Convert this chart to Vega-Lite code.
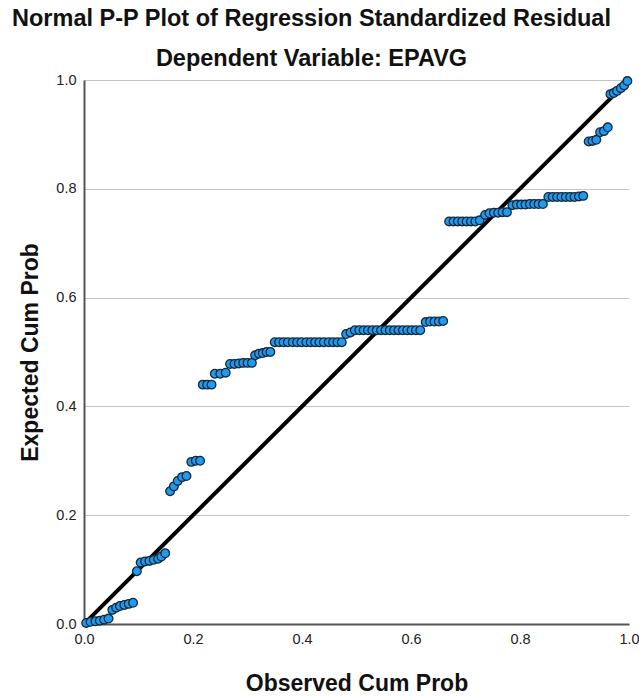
{
  "$schema": "https://vega.github.io/schema/vega-lite/v6.json",
  "autosize": "none",
  "width": 545,
  "height": 544,
  "padding": {"left": 84, "top": 80, "right": 10, "bottom": 72},
  "background": "white",
  "config": {"view": {"stroke": null}, "font": "Liberation Sans"},
  "title": {
    "text": "Normal P-P Plot of Regression Standardized Residual",
    "subtitle": "Dependent Variable: EPAVG",
    "anchor": "middle",
    "frame": "group",
    "dx": -45,
    "font": "Liberation Sans",
    "fontSize": 23.5,
    "fontWeight": "bold",
    "color": "#111",
    "subtitleFont": "Liberation Sans",
    "subtitleFontSize": 23.5,
    "subtitleFontWeight": "bold",
    "subtitleColor": "#111",
    "subtitlePadding": 16,
    "offset": 2
  },
  "layer": [
    {
      "data": {"values": [{"obs": 0, "exp": 0}, {"obs": 1, "exp": 1}]},
      "mark": {"type": "line", "color": "black", "strokeWidth": 4, "clip": true},
      "encoding": {
        "x": {"field": "obs", "type": "quantitative"},
        "y": {"field": "exp", "type": "quantitative"}
      }
    },
    {
      "data": {"values": [
        {"obs": 0.004, "exp": 0.002}, {"obs": 0.012, "exp": 0.004}, {"obs": 0.021, "exp": 0.005}, {"obs": 0.029, "exp": 0.006}, {"obs": 0.037, "exp": 0.008}, {"obs": 0.045, "exp": 0.01},
        {"obs": 0.052, "exp": 0.026}, {"obs": 0.059, "exp": 0.03}, {"obs": 0.066, "exp": 0.033}, {"obs": 0.074, "exp": 0.035}, {"obs": 0.082, "exp": 0.037}, {"obs": 0.09, "exp": 0.039},
        {"obs": 0.097, "exp": 0.097}, {"obs": 0.104, "exp": 0.113}, {"obs": 0.112, "exp": 0.115}, {"obs": 0.12, "exp": 0.116}, {"obs": 0.128, "exp": 0.118}, {"obs": 0.136, "exp": 0.12}, {"obs": 0.142, "exp": 0.124}, {"obs": 0.149, "exp": 0.13},
        {"obs": 0.158, "exp": 0.244}, {"obs": 0.165, "exp": 0.253}, {"obs": 0.172, "exp": 0.263}, {"obs": 0.18, "exp": 0.27}, {"obs": 0.188, "exp": 0.272},
        {"obs": 0.197, "exp": 0.298}, {"obs": 0.205, "exp": 0.3}, {"obs": 0.213, "exp": 0.3},
        {"obs": 0.218, "exp": 0.44}, {"obs": 0.226, "exp": 0.44}, {"obs": 0.234, "exp": 0.44},
        {"obs": 0.24, "exp": 0.46}, {"obs": 0.25, "exp": 0.46}, {"obs": 0.26, "exp": 0.462},
        {"obs": 0.268, "exp": 0.478}, {"obs": 0.276, "exp": 0.478}, {"obs": 0.284, "exp": 0.479}, {"obs": 0.292, "exp": 0.48}, {"obs": 0.3, "exp": 0.48}, {"obs": 0.308, "exp": 0.48},
        {"obs": 0.314, "exp": 0.494}, {"obs": 0.321, "exp": 0.497}, {"obs": 0.328, "exp": 0.498}, {"obs": 0.335, "exp": 0.5}, {"obs": 0.342, "exp": 0.5},
        {"obs": 0.35, "exp": 0.518}, {"obs": 0.358, "exp": 0.518}, {"obs": 0.366, "exp": 0.518}, {"obs": 0.374, "exp": 0.518}, {"obs": 0.383, "exp": 0.518}, {"obs": 0.391, "exp": 0.518}, {"obs": 0.399, "exp": 0.518}, {"obs": 0.408, "exp": 0.518}, {"obs": 0.416, "exp": 0.518}, {"obs": 0.424, "exp": 0.518}, {"obs": 0.432, "exp": 0.518}, {"obs": 0.44, "exp": 0.518}, {"obs": 0.449, "exp": 0.518}, {"obs": 0.457, "exp": 0.518}, {"obs": 0.465, "exp": 0.518}, {"obs": 0.473, "exp": 0.518},
        {"obs": 0.481, "exp": 0.533}, {"obs": 0.489, "exp": 0.536},
        {"obs": 0.497, "exp": 0.54}, {"obs": 0.505, "exp": 0.54}, {"obs": 0.513, "exp": 0.54}, {"obs": 0.521, "exp": 0.54}, {"obs": 0.529, "exp": 0.54}, {"obs": 0.537, "exp": 0.54}, {"obs": 0.545, "exp": 0.54}, {"obs": 0.553, "exp": 0.54}, {"obs": 0.561, "exp": 0.54}, {"obs": 0.569, "exp": 0.54}, {"obs": 0.577, "exp": 0.54}, {"obs": 0.585, "exp": 0.54}, {"obs": 0.593, "exp": 0.54}, {"obs": 0.601, "exp": 0.54}, {"obs": 0.609, "exp": 0.54}, {"obs": 0.617, "exp": 0.54},
        {"obs": 0.627, "exp": 0.555}, {"obs": 0.635, "exp": 0.556}, {"obs": 0.643, "exp": 0.556}, {"obs": 0.651, "exp": 0.556}, {"obs": 0.659, "exp": 0.557},
        {"obs": 0.67, "exp": 0.74}, {"obs": 0.678, "exp": 0.74}, {"obs": 0.686, "exp": 0.74}, {"obs": 0.694, "exp": 0.74}, {"obs": 0.702, "exp": 0.74}, {"obs": 0.71, "exp": 0.74}, {"obs": 0.718, "exp": 0.74}, {"obs": 0.726, "exp": 0.742},
        {"obs": 0.736, "exp": 0.752}, {"obs": 0.744, "exp": 0.755}, {"obs": 0.752, "exp": 0.756}, {"obs": 0.76, "exp": 0.756}, {"obs": 0.768, "exp": 0.757}, {"obs": 0.776, "exp": 0.757},
        {"obs": 0.786, "exp": 0.77}, {"obs": 0.794, "exp": 0.771}, {"obs": 0.802, "exp": 0.771}, {"obs": 0.81, "exp": 0.771}, {"obs": 0.818, "exp": 0.772}, {"obs": 0.826, "exp": 0.772}, {"obs": 0.834, "exp": 0.772}, {"obs": 0.842, "exp": 0.772},
        {"obs": 0.852, "exp": 0.785}, {"obs": 0.86, "exp": 0.785}, {"obs": 0.868, "exp": 0.785}, {"obs": 0.876, "exp": 0.785}, {"obs": 0.884, "exp": 0.785}, {"obs": 0.892, "exp": 0.785}, {"obs": 0.9, "exp": 0.785}, {"obs": 0.908, "exp": 0.786}, {"obs": 0.916, "exp": 0.787},
        {"obs": 0.926, "exp": 0.887}, {"obs": 0.933, "exp": 0.888}, {"obs": 0.94, "exp": 0.89},
        {"obs": 0.947, "exp": 0.904}, {"obs": 0.954, "exp": 0.906}, {"obs": 0.961, "exp": 0.913},
        {"obs": 0.966, "exp": 0.974}, {"obs": 0.972, "exp": 0.976}, {"obs": 0.978, "exp": 0.98}, {"obs": 0.985, "exp": 0.985}, {"obs": 0.991, "exp": 0.99}, {"obs": 0.997, "exp": 0.998}
      ]},
      "mark": {"type": "point", "filled": true, "size": 75, "fill": "#1E9BF0", "stroke": "#16283A", "strokeWidth": 1.3, "opacity": 1, "clip": false},
      "encoding": {
        "x": {"field": "obs", "type": "quantitative"},
        "y": {"field": "exp", "type": "quantitative"}
      }
    }
  ],
  "encoding": {
    "x": {
      "field": "obs", "type": "quantitative",
      "scale": {"domain": [0, 1], "nice": false},
      "axis": {
        "title": "Observed Cum Prob",
        "values": [0, 0.2, 0.4, 0.6, 0.8, 1.0],
        "format": ".1f",
        "grid": false,
        "ticks": false,
        "domainColor": "#555555",
        "domainWidth": 2,
        "labelFont": "Liberation Sans",
        "labelFontSize": 14.5,
        "labelColor": "#222222",
        "labelPadding": 8,
        "labelFlush": false,
        "titleFont": "Liberation Sans",
        "titleFontSize": 23,
        "titleFontWeight": "bold",
        "titleColor": "#111111",
        "titlePadding": 27
      }
    },
    "y": {
      "field": "exp", "type": "quantitative",
      "scale": {"domain": [0, 1], "nice": false},
      "axis": {
        "title": "Expected Cum Prob",
        "values": [0, 0.2, 0.4, 0.6, 0.8, 1.0],
        "format": ".1f",
        "grid": true,
        "gridColor": "#c4c4c4",
        "gridWidth": 1,
        "ticks": false,
        "domainColor": "#555555",
        "domainWidth": 2,
        "labelFont": "Liberation Sans",
        "labelFontSize": 14.5,
        "labelColor": "#222222",
        "labelPadding": 8,
        "labelFlush": false,
        "titleFont": "Liberation Sans",
        "titleFontSize": 23,
        "titleFontWeight": "bold",
        "titleColor": "#111111",
        "titlePadding": 13
      }
    }
  }
}
